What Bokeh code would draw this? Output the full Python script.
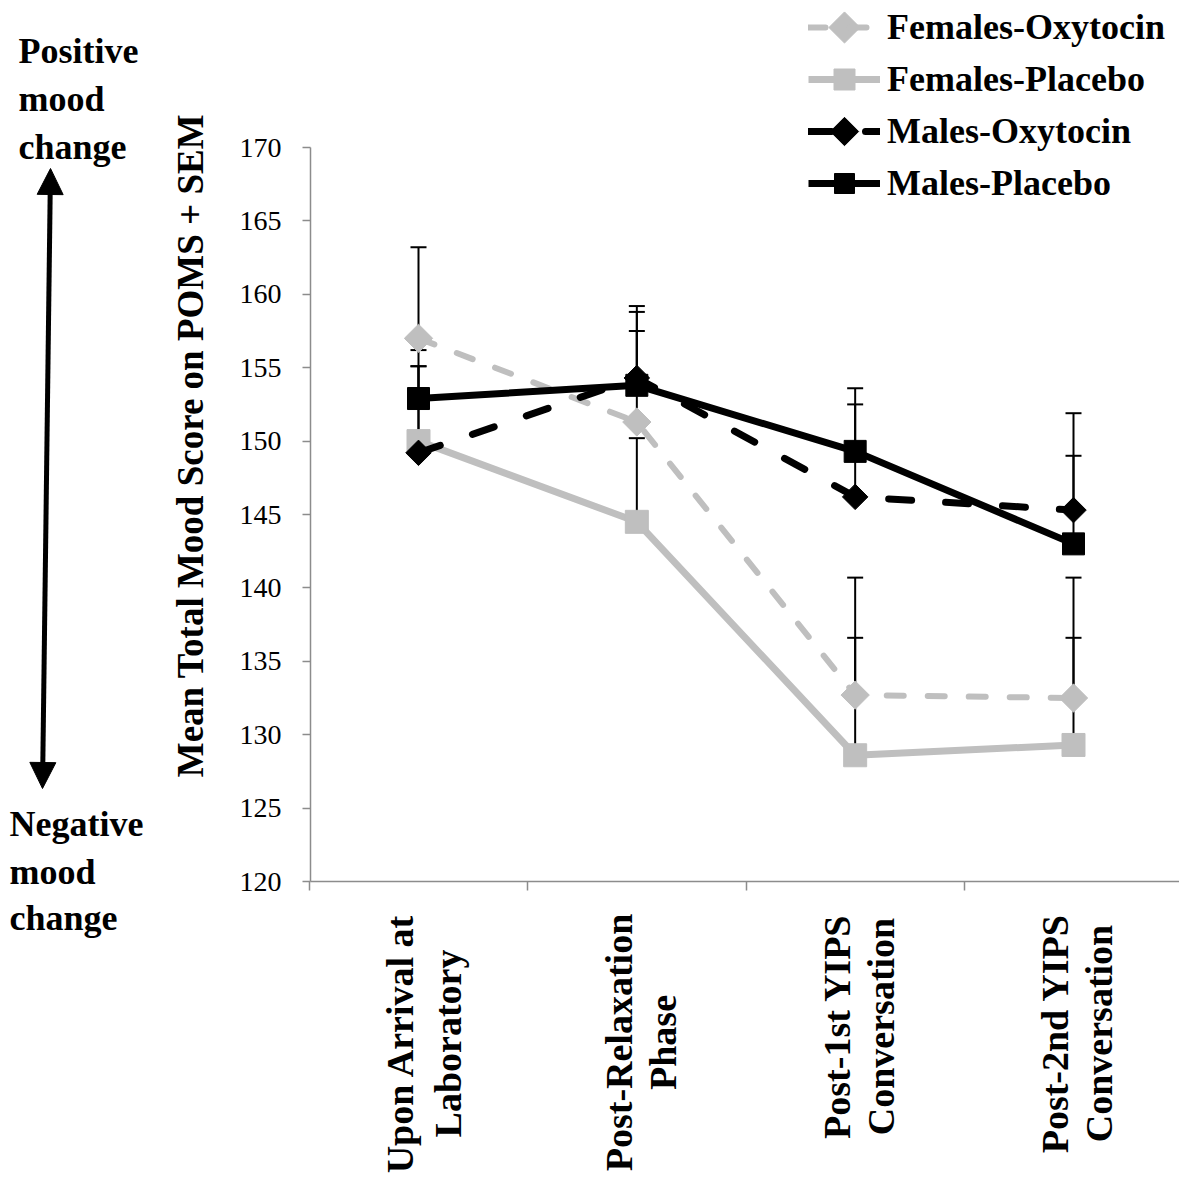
import math
from bokeh.plotting import figure
from bokeh.models import (ColumnDataSource, Label, Arrow, NormalHead, Legend, LegendItem,
                          Whisker, TeeHead, FixedTicker)
from bokeh.embed import file_html
from bokeh.resources import INLINE

# ---------------- data ----------------
categories = ["Upon Arrival at\nLaboratory", "Post-Relaxation\nPhase",
              "Post-1st YIPS\nConversation", "Post-2nd YIPS\nConversation"]
x_pos = [1, 2, 3, 4]

fem_oxy = [157.0, 151.3, 132.7, 132.5]
fem_oxy_sem = [6.2, 7.9, 8.0, 8.2]
fem_pla = [150.0, 144.5, 128.6, 129.3]
fem_pla_sem = [5.1, 5.7, 8.0, 7.3]
male_oxy = [149.2, 154.3, 146.2, 145.3]
male_oxy_sem = [7.0, 4.5, 6.3, 6.6]
male_pla = [152.9, 153.8, 149.3, 143.0]
male_pla_sem = [2.2, 3.7, 4.3, 6.0]

series_names = ["Females-Oxytocin", "Females-Placebo", "Males-Oxytocin", "Males-Placebo"]
y_ticks = [120, 125, 130, 135, 140, 145, 150, 155, 160, 165, 170]
x_bounds_ticks = [0.5, 1.5, 2.5, 3.5, 4.5]

FONT = "Liberation Serif"
GRAY = "#BFBFBF"

W, H = 1179, 1178

# ---------------- layout helpers (canvas px -> data) ----------------
X1_PX, X4_PX = 418.0, 1073.0
XS = (X4_PX - X1_PX) / 3.0
TOP_PX, BOT_PX = 147.0, 881.0
YS = (BOT_PX - TOP_PX) / 50.0
AXIS_X_PX = 310.0

def dx(px):
    return 1 + (px - X1_PX) / XS

def dy(py):
    return 170 - (py - TOP_PX) / YS

p = figure(frame_width=W, frame_height=H,
           min_border_left=0, min_border_right=0, min_border_top=0, min_border_bottom=0,
           x_range=(dx(0), dx(W)), y_range=(dy(H), dy(0)),
           output_backend="svg", toolbar_location=None, tools="")
p.xgrid.visible = False
p.ygrid.visible = False
p.outline_line_color = None
p.background_fill_color = "white"
p.border_fill_color = "white"

# axes (placed at fixed locations inside the frame)
p.yaxis.fixed_location = dx(AXIS_X_PX)
p.yaxis.bounds = (120, 170)
p.yaxis.ticker = FixedTicker(ticks=y_ticks)
p.yaxis.axis_line_color = "#8C8C8C"
p.yaxis.axis_line_width = 1.5
p.yaxis.major_tick_line_color = "#8C8C8C"
p.yaxis.major_tick_line_width = 1.5
p.yaxis.major_tick_out = 8
p.yaxis.major_tick_in = 0
p.yaxis.minor_tick_line_color = None
p.yaxis.major_label_text_font = FONT
p.yaxis.major_label_text_font_size = "28px"
p.yaxis.major_label_text_color = "black"
p.yaxis.major_label_standoff = 21

p.xaxis.fixed_location = 120
p.xaxis.bounds = (dx(AXIS_X_PX), dx(W))
p.xaxis.ticker = FixedTicker(ticks=x_bounds_ticks)
p.xaxis.axis_line_color = "#8C8C8C"
p.xaxis.axis_line_width = 1.5
p.xaxis.major_tick_line_color = "#8C8C8C"
p.xaxis.major_tick_line_width = 1.5
p.xaxis.major_tick_out = 9
p.xaxis.major_tick_in = 0
p.xaxis.minor_tick_line_color = None
p.xaxis.major_label_overrides = {t: "" for t in x_bounds_ticks}

# error bars (upper only)
for vals, sems in [(fem_oxy, fem_oxy_sem), (fem_pla, fem_pla_sem),
                   (male_oxy, male_oxy_sem), (male_pla, male_pla_sem)]:
    src = ColumnDataSource(dict(x=x_pos, lower=vals, upper=[v + s for v, s in zip(vals, sems)]))
    w = Whisker(source=src, base="x", lower="lower", upper="upper", dimension="height",
                line_color="black", line_width=2, lower_head=None,
                upper_head=TeeHead(size=16, line_color="black", line_width=2),
                level="underlay")
    p.add_layout(w)

styles = [
    dict(vals=fem_oxy, color=GRAY, width=6, dash="17 24", marker="square", angle=math.pi / 4, size=20),
    dict(vals=fem_pla, color=GRAY, width=7, dash="solid", marker="square", angle=0, size=23),
    dict(vals=male_oxy, color="black", width=7, dash="23 34", marker="square", angle=math.pi / 4, size=18),
    dict(vals=male_pla, color="black", width=7, dash="solid", marker="square", angle=0, size=22),
]

# legend geometry (canvas px)
LEG_LEFT, LEG_TOP = 808, 4
GLYPH_W, GLYPH_H, SPACING = 72, 46, 6

items = []
for i, (name, st) in enumerate(zip(series_names, styles)):
    src = ColumnDataSource(dict(x=x_pos, y=st["vals"]))
    ln = p.line("x", "y", source=src, line_color=st["color"], line_width=st["width"],
                line_dash=st["dash"], line_cap="round" if st["dash"] != "solid" else "butt",
                line_join="round")
    sc = p.scatter("x", "y", source=src, marker=st["marker"], angle=st["angle"], size=st["size"],
                   fill_color=st["color"], line_color=st["color"])
    # marker sample for the legend row (drawn at the legend glyph centre)
    cy = LEG_TOP + GLYPH_H / 2 + i * (GLYPH_H + SPACING)
    cx = LEG_LEFT + GLYPH_W / 2
    p.scatter(x=[dx(cx)], y=[dy(cy)], marker=st["marker"], angle=st["angle"],
              size=st["size"] + (2 if st["angle"] else -2),
              fill_color=st["color"], line_color=st["color"], level="overlay")
    items.append(LegendItem(label=name, renderers=[ln]))

legend = Legend(items=items, location=(LEG_LEFT, H - LEG_TOP - (4 * GLYPH_H + 3 * SPACING)),
                orientation="vertical",
                glyph_width=GLYPH_W, glyph_height=GLYPH_H, spacing=SPACING, padding=0, margin=0,
                label_standoff=7, label_text_font=FONT, label_text_font_style="bold",
                label_text_font_size="36px", label_text_color="black",
                border_line_alpha=0, background_fill_alpha=0)
p.add_layout(legend, "center")

# y axis title
p.add_layout(Label(x=dx(190), y=dy(445), text="Mean Total Mood Score on POMS + SEM",
                   angle=math.pi / 2, text_align="center", text_baseline="middle",
                   text_font=FONT, text_font_style="bold", text_font_size="37px",
                   text_color="black"))

# category labels (two lines each, rotated)
cat_line_pos = [((399, 1043), (447, 1043)), ((618, 1042), (662, 1042)),
                ((836, 1026), (880, 1026)), ((1054, 1033), (1098, 1033))]
for cat, poss in zip(categories, cat_line_pos):
    for line_txt, (px, py) in zip(cat.split("\n"), poss):
        p.add_layout(Label(x=dx(px), y=dy(py), text=line_txt, angle=math.pi / 2,
                           text_align="center", text_baseline="middle",
                           text_font=FONT, text_font_style="bold", text_font_size="38px",
                           text_color="black"))

# side annotations
for txt, (px, py) in [("Positive", (18, 50)), ("mood", (18, 98)), ("change", (18, 146)),
                      ("Negative", (9, 823)), ("mood", (9, 871)), ("change", (9, 917))]:
    p.add_layout(Label(x=dx(px), y=dy(py), text=txt, text_align="left", text_baseline="middle",
                       text_font=FONT, text_font_style="bold", text_font_size="36px",
                       text_color="black"))

p.add_layout(Arrow(x_start=dx(42), y_start=dy(788), x_end=dx(50), y_end=dy(168),
                   line_width=5, line_color="black",
                   start=NormalHead(size=26, fill_color="black", line_color="black"),
                   end=NormalHead(size=26, fill_color="black", line_color="black")))

open("out.html", "w").write(file_html(p, INLINE))
